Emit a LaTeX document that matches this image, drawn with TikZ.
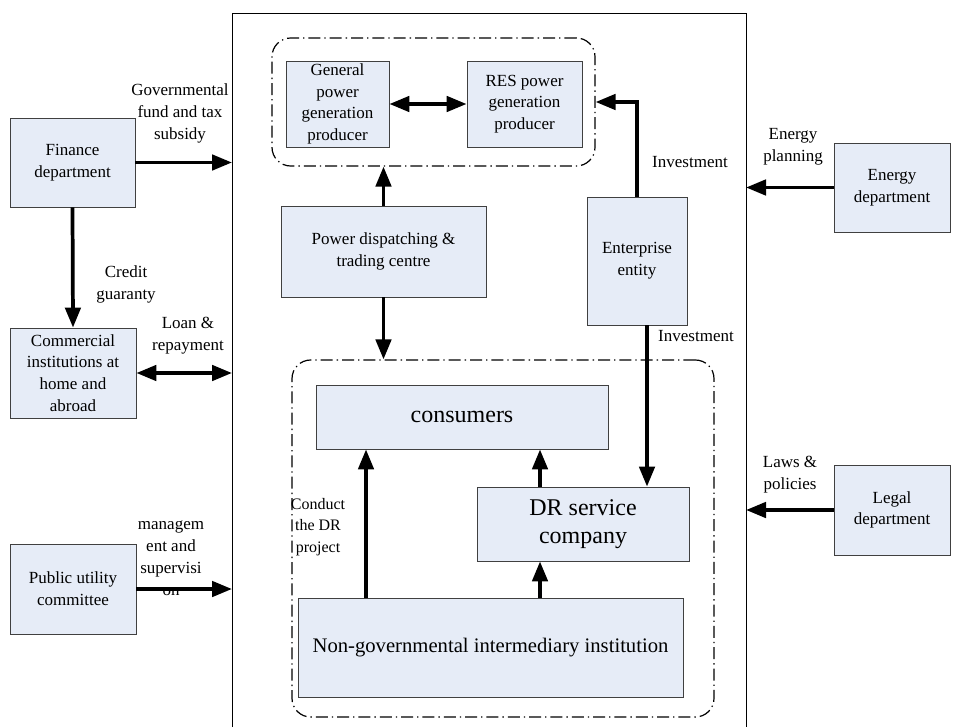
\documentclass[tikz,border=0pt]{standalone}
\usepackage{fontspec}
\setmainfont{Liberation Serif}
\usetikzlibrary{arrows.meta, positioning}
\definecolor{boxblue}{RGB}{230,236,247}

\begin{document}
\begin{tikzpicture}[
    x=0.75pt, y=-0.75pt, % one unit = one pixel of the layout, y runs downwards
    >={Triangle[length=15pt, width=11.5pt]}, % Large filled arrow heads
    box/.style={draw=black!75, fill=boxblue, line width=0.6pt, align=center, inner sep=1pt,
                font=\fontsize{12.75}{16.3}\selectfont}, % Light blue actor boxes
    dims/.style 2 args={minimum width=#1*0.75pt, minimum height=#2*0.75pt}, % Size in layout pixels
    group/.style={draw, line width=0.9pt, rounded corners=14pt,
                  dash pattern=on 9pt off 3pt on 1pt off 3pt}, % Dash-dot groups
    flow/.style={line width=2.8pt}, % Thick connectors
    txt/.style={align=center, font=\fontsize{12.75}{16.5}\selectfont} % Connector labels
]
    \useasboundingbox (0,0) rectangle (955,727);

    % Outer frame (open at the bottom)
    \draw[line width=0.6pt] (232,727) |- (746,13) -- (746,727);
    \coordinate (fl) at (232,0);
    \coordinate (fr) at (746,0);

    % Government side, left
    \node[box, dims={125}{89}] (fin) at (72.5,162.5) {Finance\\department};
    \node[box, dims={126}{90}] (com) at (73,373) {Commercial\\institutions at\\home and\\abroad};
    \node[box, dims={126}{90}] (pub) at (73,589) {Public utility\\committee};

    % Government side, right
    \node[box, dims={116}{89}] (ene) at (892,187.5) {Energy\\department};
    \node[box, dims={116}{90}] (leg) at (892,510) {Legal\\department};

    % Producers
    \node[group, dims={323}{128}] (prod) at (433.5,102) {};
    \node[box, dims={103}{86}] (gen) at (337.5,104) {General\\power\\generation\\producer};
    \node[box, dims={115}{86}] (res) at (524.5,104) {RES power\\generation\\producer};

    % Market players
    \node[box, dims={205}{91}] (pdt) at (383.5,251.5) {Power dispatching \&\\trading centre};
    \node[box, dims={100}{128}] (ent) at (637,261) {Enterprise\\entity};

    % Demand side
    \node[group, dims={422}{357}] (users) at (503,538.5) {};
    \node[box, dims={292}{64}, font=\fontsize{18}{20}\selectfont] (con) at (462,417) {consumers};
    \node[box, dims={212}{74}, font=\fontsize{18}{21}\selectfont] (drs) at (583,524) {DR service\\company};
    \node[box, dims={385}{99}, font=\fontsize{15.5}{18}\selectfont] (ngo) at (490.5,647.5) {Non-governmental intermediary institution};
    \coordinate (cd) at (366,0);
    \coordinate (dr) at (540,0);
    \coordinate (ei) at (647,0);

    % Connectors into the frame
    \draw[flow, ->] (fin.east) -- (fin.east -| fl);
    \draw[flow, ->] (fin.south) -- (com.north);
    \draw[flow, <->] (com.east) -- (com.east -| fl);
    \draw[flow, ->] (pub.east) -- (pub.east -| fl);
    \draw[flow, ->] (ene.west) -- (ene.west -| fr);
    \draw[flow, ->] (leg.west) -- (leg.west -| fr);

    % Connectors inside the frame
    \draw[flow, <->] (gen.east) -- (res.west);
    \draw[flow, ->] (pdt.north) -- (pdt.north |- prod.south);
    \draw[flow, ->] (pdt.south) -- (pdt.south |- users.north);
    \draw[flow, ->] (ent.north) |- (prod.east);
    \draw[flow, ->] (ent.south -| ei) -- (drs.north -| ei);
    \draw[flow, ->] (ngo.north -| cd) -- (con.south -| cd);
    \draw[flow, ->] (drs.north -| dr) -- (con.south -| dr);
    \draw[flow, ->] (ngo.north -| dr) -- (drs.south -| dr);

    % Labels
    \node[txt] (lfund) at (180,113) {Governmental\\fund and tax\\subsidy};
    \node[txt] (lcred) at (126,284) {Credit\\guaranty};
    \node[txt] (lloan) at (188,336) {Loan \&\\repayment};
    \node[txt] (lmgmt) at (171,558.5) {managem\\ent and\\supervisi\\on};
    \node[txt] (lplan) at (793,147) {Energy\\planning};
    \node[txt] (linv1) at (690,162) {Investment};
    \node[txt] (linv2) at (696,336) {Investment};
    \node[txt] (llaws) at (790,475) {Laws \&\\policies};
    \node[txt, font=\fontsize{12}{16}\selectfont] (lcond) at (318,527) {Conduct\\the DR\\project};

\end{tikzpicture}
\end{document}
